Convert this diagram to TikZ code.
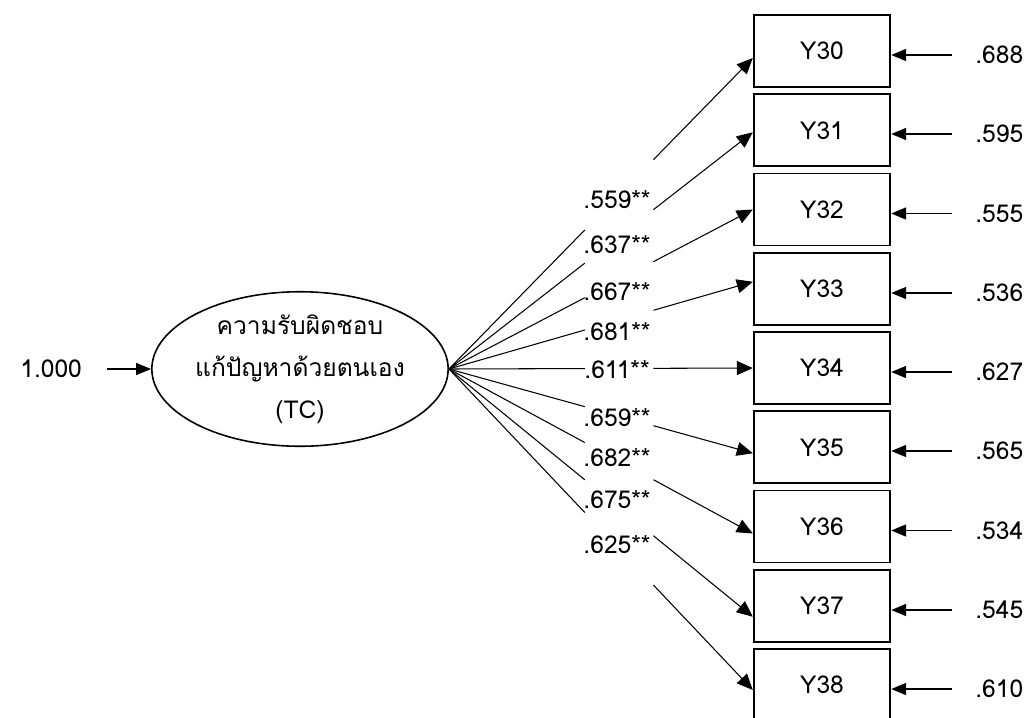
\documentclass[tikz,border=0pt]{standalone}
\usepackage{fontspec}
\setmainfont{Loma}
\newfontfamily\thaifont[Script=Thai]{Loma}
\usepackage{tikz}
\usetikzlibrary{positioning,arrows.meta,calc,shapes.geometric}

\begin{document}
\begin{tikzpicture}[x=0.02cm, y=-0.02cm,
  obs/.style={draw, line width=1.1pt, minimum width=2.73cm, minimum height=1.44cm, inner sep=0pt, font=\fontsize{14}{16}\selectfont},
  lat/.style={draw, ellipse, line width=0.9pt, minimum width=5.76cm, minimum height=2.92cm, inner sep=0pt, align=center, font=\fontsize{14}{24}\selectfont\thaifont},
  load/.style={font=\fontsize{14}{16}\selectfont, inner sep=0pt},
  err/.style={font=\fontsize{14}{16}\selectfont, anchor=west, inner sep=0pt},
  ld/.style={line width=0.6pt, -{Triangle[length=0.32cm, width=0.28cm]}},
  ex/.style={line width=1pt, -{Triangle[length=0.3cm, width=0.24cm]}}]
\useasboundingbox (0,0) rectangle (1024,717);
% latent factor
\node[lat] (tc) at (300,369) {ความรับผิดชอบ\\แก้ปัญหาด้วยตนเอง\\(TC)};
\node[load, anchor=west] (fix) at (20,369) {1.000};
\draw[ex] ([xshift=0.5cm]fix.east) -- (tc.west);
% indicators
\node[obs] (y30) at (822,51) {Y30};
\node[obs] (y31) at (822,130.25) {Y31};
\node[obs] (y32) at (822,209.5) {Y32};
\node[obs] (y33) at (822,288.75) {Y33};
\node[obs] (y34) at (822,368) {Y34};
\node[obs] (y35) at (822,447.25) {Y35};
\node[obs] (y36) at (822,526.5) {Y36};
\node[obs] (y37) at (822,605.75) {Y37};
\node[obs] (y38) at (822,685) {Y38};
% error terms
\node[err] (e30) at (975,55) {.688};
\node[err] (e31) at (975,134) {.595};
\node[err] (e32) at (975,213.5) {.555};
\node[err] (e33) at (975,293) {.536};
\node[err] (e34) at (975,372) {.627};
\node[err] (e35) at (975,451) {.565};
\node[err] (e36) at (975,530.5) {.534};
\node[err] (e37) at (975,610) {.545};
\node[err] (e38) at (975,689) {.610};
\draw[ex] ([xshift=-0.46cm]e30.west) -- (e30.west -| y30.east);
\draw[ex] ([xshift=-0.46cm]e31.west) -- (e31.west -| y31.east);
\draw[ex] ([xshift=-0.46cm]e32.west) -- (e32.west -| y32.east);
\draw[ex] ([xshift=-0.46cm]e33.west) -- (e33.west -| y33.east);
\draw[ex] ([xshift=-0.46cm]e34.west) -- (e34.west -| y34.east);
\draw[ex] ([xshift=-0.46cm]e35.west) -- (e35.west -| y35.east);
\draw[ex] ([xshift=-0.46cm]e36.west) -- (e36.west -| y36.east);
\draw[ex] ([xshift=-0.46cm]e37.west) -- (e37.west -| y37.east);
\draw[ex] ([xshift=-0.46cm]e38.west) -- (e38.west -| y38.east);
% loadings
\node[load] (l30) at (617,200) {.559**};
\node[load] (l31) at (617,245) {.637**};
\node[load] (l32) at (617,292) {.667**};
\node[load] (l33) at (617,332) {.681**};
\node[load] (l34) at (617,370) {.611**};
\node[load] (l35) at (617,418) {.659**};
\node[load] (l36) at (617,458) {.682**};
\node[load] (l37) at (617,500) {.675**};
\node[load] (l38) at (617,545) {.625**};
\coordinate (t30) at ([yshift=-0.14cm]y30.west);
\coordinate (t31) at ([yshift=-0.04cm]y31.west);
\coordinate (t32) at (y32.west);
\coordinate (t33) at ([yshift=0.14cm]y33.west);
\coordinate (t34) at (y34.west);
\coordinate (t35) at ([yshift=-0.12cm]y35.west);
\coordinate (t36) at ([yshift=-0.14cm]y36.west);
\coordinate (t37) at ([yshift=-0.22cm]y37.west);
\coordinate (t38) at ([yshift=-0.1cm]y38.west);
\draw[ld] (tc.east) -- ($(tc.east)!0.447!(t30)$) ($(tc.east)!0.673!(t30)$) -- (t30);
\draw[ld] (tc.east) -- ($(tc.east)!0.447!(t31)$) ($(tc.east)!0.673!(t31)$) -- (t31);
\draw[ld] (tc.east) -- ($(tc.east)!0.447!(t32)$) ($(tc.east)!0.673!(t32)$) -- (t32);
\draw[ld] (tc.east) -- ($(tc.east)!0.447!(t33)$) ($(tc.east)!0.673!(t33)$) -- (t33);
\draw[ld] (tc.east) -- ($(tc.east)!0.447!(t34)$) ($(tc.east)!0.673!(t34)$) -- (t34);
\draw[ld] (tc.east) -- ($(tc.east)!0.447!(t35)$) ($(tc.east)!0.673!(t35)$) -- (t35);
\draw[ld] (tc.east) -- ($(tc.east)!0.447!(t36)$) ($(tc.east)!0.673!(t36)$) -- (t36);
\draw[ld] (tc.east) -- ($(tc.east)!0.447!(t37)$) ($(tc.east)!0.673!(t37)$) -- (t37);
\draw[ld] (tc.east) -- ($(tc.east)!0.447!(t38)$) ($(tc.east)!0.673!(t38)$) -- (t38);
\end{tikzpicture}
\end{document}
